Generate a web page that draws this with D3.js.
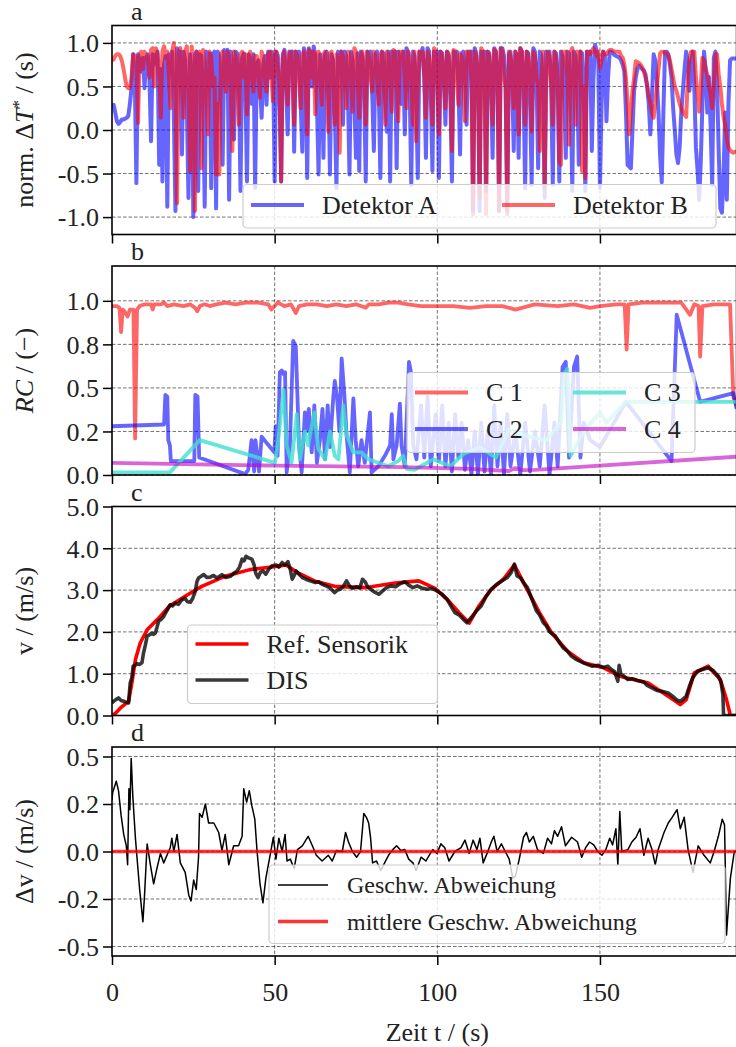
<!DOCTYPE html>
<html>
<head>
<meta charset="utf-8">
<script src="https://cdn.jsdelivr.net/npm/d3@7"></script>
<style>
  body { margin: 0; background: #fff; }
  text { font-family: "Liberation Serif", "Times New Roman", serif; fill: #222; }
</style>
</head>
<body>
<svg id="fig" width="736" height="1047"></svg>
<script>
// ---- data ----
var xTicks = [0, 50, 100, 150];
var xTickLabels = ["0", "50", "100", "150"];

// panel a: normalised Delta T*, sampled every 0.5 s
var sampleStep = 0.5;
var aTicks = [-1, -0.5, 0, 0.5, 1];
var aTickLabels = ["-1.0", "-0.5", "0.0", "0.5", "1.0"];
var detektorA = [
  0.27, 0.29, 0.2, 0.1, 0.07, 0.09, 0.12, 0.12, 0.13, 0.14,
  0.16, 0.3, 0.48, 0.87, 0.6, -0.61, 0.87, 0.8, 0.67, 0.83,
  0.48, 0.83, 0.87, 0.6, -0.13, 0.87, 0.75, 0.85, 0.9, -0.4,
  0.7, -0.59, 0.75, 0.85, -0.88, 0.87, 0.8, 0.9, 0.2, -0.93,
  0.94, 0.85, 0.9, -0.28, 0.9, 0.8, 0.3, -0.78, 0.87, 0.6,
  -1.0, 0.87, 0.9, -0.7, 0.87, 0.85, 0.4, -0.88, 0.9, 0.75,
  0.88, -0.67, 0.87, 0.9, -0.9, 0.9, 0.85, 0.5, -0.4, 0.92,
  0.85, 0.92, -0.8, 0.9, 0.7, -0.11, 0.9, 0.88, 0.6, -0.7,
  0.83, 0.88, 0.5, -0.59, 0.87, 0.8, 0.3, 0.87, -0.67, 0.75,
  0.8, 0.5, 0.14, 0.75, 0.85, 0.29, 0.9, 0.6, 0.9, 0.8,
  -0.59, 0.9, 0.85, 0.4, -0.59, 0.87, 0.92, 0.6, -0.05, 0.9,
  0.85, 0.9, -0.25, 0.9, 0.7, 0.9, 0.3, -0.25, 0.94, 0.85,
  -0.55, 0.94, 0.88, 0.5, 0.96, 0.85, 0.3, -0.51, 0.87, 0.7,
  -0.32, 0.87, 0.9, 0.6, -0.51, 0.87, 0.8, 0.2, -0.67, 0.9,
  0.85, 0.9, 0.06, 0.9, 0.85, 0.5, -0.51, 0.9, 0.8, 0.3,
  -0.32, 0.88, -0.47, 0.9, 0.85, 0.5, -0.59, 0.9, 0.85, 0.9,
  0.4, -0.24, 0.87, 0.9, 0.5, -0.55, 0.9, 0.88, 0.4, -0.02,
  0.9, -0.59, 0.9, 0.85, 0.9, -0.44, 0.9, 0.8, 0.3, 0.9,
  -0.05, 0.94, 0.9, 0.5, -0.63, 0.9, 0.85, 0.4, -0.55, 0.9,
  0.88, 0.94, 0.6, -0.32, 0.94, 0.9, 0.4, -0.47, 0.9, 0.85,
  0.9, -0.55, 0.9, 0.88, 0.6, 0.06, 0.9, 0.85, 0.4, -0.59,
  0.9, 0.88, 0.9, 0.5, -0.28, 0.87, 0.9, 0.7, 0.06, 0.9,
  0.85, 0.9, -0.93, 0.94, 0.88, 0.6, -0.93, 0.9, 0.85, 0.9,
  -0.7, 0.9, 0.88, 0.5, -0.32, 0.94, 0.9, 0.6, -0.93, 0.94,
  0.94, 0.85, 0.5, -0.93, 0.87, 0.9, 0.6, -0.24, 0.9, 0.85,
  -0.32, 0.94, 0.9, 0.5, -0.67, 0.9, 0.88, 0.4, -0.63, 0.94,
  0.9, 0.6, -0.44, 0.9, 0.85, 0.5, -0.78, 0.9, 0.88, 0.9,
  0.5, -0.63, 0.9, 0.88, 0.6, -0.59, 0.9, 0.85, 0.5, -0.32,
  0.9, 0.88, 0.4, -0.7, 0.9, 0.85, 0.6, -0.4, 0.9, 0.88,
  0.5, -0.7, 0.9, 0.85, 0.9, -0.24, 0.6, 0.98, 0.9, 0.8,
  -0.67, 0.3, 0.9, 0.85, 0.1, 0.6, 0.9, 0.9, 0.88, 0.86,
  0.85, 0.84, 0.83, 0.8, 0.75, 0.67, 0.2, -0.4, -0.42, -0.44,
  0.0, 0.45, 0.6, 0.7, 0.74, 0.72, 0.7, 0.68, 0.64, 0.5,
  0.3, -0.05, 0.4, 0.87, 0.8, 0.56, 0.2, -0.3, -0.6, 0.2,
  0.9, 0.9, 0.87, 0.75, 0.6, 0.25, 0.0, -0.28, -0.38, -0.2,
  0.2, 0.45, 0.7, 0.9, 0.8, 0.45, 0.7, 0.9, 0.5, -0.2,
  -0.46, -0.8, -0.36, 0.3, 0.9, 0.7, 0.2, 0.61, 0.06, -0.63,
  0.83, 0.9, 0.5, -0.23, -0.9, -0.95, -0.5, 0.2, -0.8, 0.3,
  0.8, 0.82, 0.82, 0.82, 0.82];
var detektorB = [
  0.8, 0.81, 0.85, 0.87, 0.87, 0.85, 0.8, 0.71, 0.6, 0.5,
  0.48, 0.48, 0.6, 0.87, 0.85, 0.83, 0.08, 0.87, 0.9, 0.7,
  0.9, 0.85, 0.83, 0.6, 0.92, 0.94, 0.5, 0.94, 0.87, 0.7,
  0.14, 0.9, 0.96, 0.83, 0.9, 0.6, 0.25, 0.9, 1.0, 0.5,
  -0.84, 0.9, 0.94, 0.6, 0.14, 0.9, 0.96, 0.5, -0.47, 0.96,
  0.6, -0.93, 0.9, 0.8, 0.9, -0.44, 0.92, 0.8, 0.4, -0.05,
  0.9, 0.85, 0.5, 0.6, -0.51, 0.3, -0.51, 0.87, 0.9, 0.6,
  0.44, 0.9, 0.85, 0.5, -0.24, 0.9, 0.85, 0.6, 0.06, 0.87,
  0.9, 0.6, 0.87, 0.18, 0.83, 0.9, 0.6, 0.44, 0.85, 0.85,
  0.6, 0.37, 0.9, 0.83, 0.6, 0.44, 0.87, 0.9, 0.6, 0.33,
  0.9, 0.9, 0.7, 0.5, -0.59, 0.83, 0.9, 0.6, 0.29, 0.87,
  0.9, 0.6, 0.06, 0.9, 0.85, 0.6, 0.25, 0.87, 0.9, 0.6,
  -0.05, 0.92, 0.9, 0.6, 0.9, 0.18, 0.87, 0.9, 0.6, 0.29,
  0.87, 0.9, 0.6, -0.02, 0.88, 0.9, 0.6, 0.06, 0.87, 0.8,
  -0.26, 0.9, 0.85, 0.6, 0.25, 0.9, 0.88, 0.6, 0.21, 0.94,
  0.9, 0.6, 0.14, 0.87, 0.9, 0.6, 0.06, 0.9, 0.85, 0.6,
  0.44, 0.9, 0.85, 0.6, 0.29, 0.87, 0.9, 0.6, 0.06, 0.9,
  0.88, 0.6, 0.21, 0.92, 0.9, 0.6, 0.1, 0.9, 0.85, 0.9,
  0.6, 0.25, 0.9, 0.85, 0.6, 0.06, 0.9, -0.13, 0.5, 0.9,
  0.87, 0.9, 0.6, 0.14, 0.9, 0.85, 0.6, 0.06, 0.94, 0.9,
  0.6, -0.05, 0.9, 0.85, 0.6, 0.25, 0.9, 0.88, 0.6, -0.24,
  0.92, 0.9, 0.6, 0.29, 0.88, 0.85, 0.6, 0.1, 0.9, 0.85,
  0.9, 0.5, -0.97, 0.9, 0.85, 0.6, -0.78, 0.94, 0.9, 0.6,
  -0.97, 0.9, 0.85, 0.6, 0.06, 0.92, 0.9, 0.6, -0.93, 0.94,
  0.9, 0.6, 0.5, -0.97, 0.9, 0.85, 0.6, 0.25, 0.9, 0.85,
  -0.05, 0.94, 0.9, 0.6, 0.06, 0.9, 0.85, 0.6, -0.02, 0.9,
  0.85, 0.6, 0.5, -0.24, 0.6, 0.9, -0.67, 0.5, 0.9, 0.85,
  0.6, 0.06, 0.9, 0.85, 0.6, -0.36, -0.4, 0.9, 0.85, 0.9,
  0.6, -0.17, 0.9, 0.94, 0.6, 0.06, 0.9, 0.85, 0.9, -0.47,
  0.5, -0.55, 0.9, 0.9, 0.87, 0.9, 0.94, 0.9, 0.85, 0.9,
  0.71, 0.8, 0.9, 0.87, 0.87, 0.9, 0.92, 0.92, 0.91, 0.9,
  0.9, 0.9, 0.9, 0.85, 0.83, 0.75, 0.6, 0.3, -0.05, 0.2,
  0.44, 0.6, 0.79, 0.78, 0.77, 0.75, 0.72, 0.68, 0.6, 0.52,
  0.4, 0.3, 0.2, 0.14, 0.3, 0.5, 0.7, 0.88, 0.9, 0.9,
  0.88, 0.88, 0.86, 0.8, 0.7, 0.6, 0.5, 0.45, 0.38, 0.3,
  0.25, 0.2, 0.18, 0.15, 0.57, 0.8, 0.9, 0.9, 0.9, 0.6,
  0.4, 0.21, 0.5, 0.83, 0.8, 0.7, 0.64, 0.5, 0.4, 0.25,
  0.5, 0.87, 0.87, 0.64, 0.5, 0.3, 0.15, 0.06, -0.1, -0.2,
  -0.23, -0.25, -0.26, -0.25, -0.25];

// panel b: RC of components
var bTicks = [0, 0.25, 0.5, 0.75, 1];
var bTickLabels = ["0.0", "0.2", "0.5", "0.8", "1.0"];
var rcC1 = [[0,0.97],[1.5,0.97],[2.3,0.96],[2.8,0.82],[3.3,0.95],[4.2,0.93],[4.8,0.91],[5.5,0.95],[6.6,0.95],[7.1,0.21],[7.7,0.95],[8.5,0.97],[10,0.98],[12,0.98],[12.5,0.95],[13,0.98],[15,0.98],[16,0.99],[17,0.97],[19,0.98],[22,0.97],[24,0.98],[25.5,0.96],[26.2,0.94],[27,0.97],[28.5,0.98],[30,0.97],[32,0.98],[35,0.99],[38,0.98],[41,0.99],[45,0.99],[48,0.98],[49,0.95],[50,0.97],[51,0.99],[53,0.97],[55,0.98],[56.5,0.93],[57.5,0.97],[60,0.98],[63,0.98],[66,0.97],[69,0.98],[72,0.97],[75,0.98],[78,0.96],[79,0.98],[82,0.98],[85,0.99],[88,0.99],[91,0.98],[95,0.97],[100,0.97],[105,0.97],[110,0.96],[115,0.97],[120,0.97],[124,0.95],[126,0.96],[130,0.98],[137,0.97],[142,0.98],[147,0.96],[150,0.97],[155,0.98],[157.6,0.98],[158.2,0.72],[158.8,0.98],[163,0.99],[170,0.99],[175,0.99],[177.7,0.92],[179,0.98],[180.3,0.97],[180.8,0.68],[181.5,0.97],[185,0.98],[190,0.98],[191,0.45],[192,0.4]];
var rcC2 = [[0,0.28],[16,0.29],[16.4,0.46],[17,0.45],[17.3,0.2],[17.8,0.17],[18.1,0.08],[25.3,0.08],[25.6,0.46],[26.3,0.45],[26.8,0.1],[40.9,0.005],[41.9,0.03],[42.9,0.2],[43.7,0.02],[44.1,0.2],[45.2,0.02],[46,0.22],[49.9,0.13],[50.3,0.28],[50.9,0.11],[51.6,0.59],[52.2,0.6],[52.7,0.58],[53.2,0.59],[53.7,0.015],[54.7,0.17],[55.7,0.77],[56.5,0.74],[57.5,0.17],[58.3,0.015],[59.3,0.36],[59.8,0.25],[60.5,0.38],[61.4,0.13],[62.2,0.4],[63,0.07],[63.9,0.2],[64.7,0.38],[65.5,0.09],[66.3,0.4],[67,0.16],[68,0.44],[68.5,0.54],[69.2,0.44],[69.9,0.25],[70.6,0.67],[71.4,0.47],[72.1,0.23],[73.1,0.015],[74.2,0.44],[74.9,0.2],[75.7,0.05],[76.7,0.2],[77.7,0.07],[79.3,0.36],[79.8,0.015],[81.9,0.05],[83.9,0.11],[85.5,0.17],[86,0.35],[86.5,0.09],[87.5,0.17],[88.5,0.41],[89,0.17],[90,0.05],[91.3,0.65],[91.9,0.59],[92.6,0.17],[93.6,0.09],[95,0.4],[96,0.1],[97,0.45],[98,0.05],[99.5,0.35],[100.5,0.08],[101.5,0.4],[102.5,0.05],[103.5,0.3],[104.5,0.02],[105.5,0.35],[106.5,0.1],[107.5,0.3],[108.5,0.03],[109.5,0.2],[110.5,0.0],[111.5,0.25],[112.5,0.0],[113.5,0.3],[114.5,0.02],[115.5,0.25],[116.5,0.0],[117.5,0.4],[118.5,0.05],[119.5,0.3],[120.5,0.0],[121.5,0.35],[122.5,0.05],[124,0.25],[125.5,0.0],[127,0.3],[128.5,0.02],[130,0.25],[131.5,0.05],[133,0.4],[134.5,0.0],[136,0.3],[137,0.05],[138.5,0.62],[139.5,0.65],[140.5,0.1],[142,0.62],[143,0.68],[144,0.1],[145,0.3],[147,0.2],[150,0.16],[158,0.42],[172,0.08],[173.6,0.92],[180.8,0.42],[191,0.47],[192,0.38]];
var rcC3 = [[0,0.015],[17.8,0.015],[27,0.2],[50.1,0.07],[51.1,0.2],[52.7,0.49],[53.7,0.17],[55.2,0.07],[56.8,0.35],[57.8,0.09],[59.3,0.25],[60.3,0.17],[61.4,0.28],[62.2,0.36],[63.4,0.15],[65.5,0.09],[67,0.25],[68.5,0.11],[69.6,0.09],[71.1,0.4],[72.1,0.23],[74.2,0.13],[76.7,0.13],[78.8,0.09],[81.9,0.07],[84.9,0.05],[88,0.08],[89.5,0.11],[90.6,0.035],[93,0.03],[98.7,0.09],[104,0.05],[108,0.12],[113,0.16],[118,0.1],[122,0.26],[128,0.22],[133.6,0.2],[138,0.3],[139,0.58],[140,0.61],[141,0.11],[145,0.25],[150,0.36],[152,0.3],[158,0.42],[192,0.42]];
var rcC4 = [[0,0.07],[50,0.054],[90,0.045],[110,0.035],[122,0.023],[124,0.04],[126,0.028],[130,0.03],[192,0.105]];

// panel c: speed
var cTicks = [0, 1, 2, 3, 4, 5];
var cTickLabels = ["0.0", "1.0", "2.0", "3.0", "4.0", "5.0"];
var refSensorik = [[0,0],[1,0.05],[2.6,0.18],[5.1,0.34],[6.1,0.78],[7.2,1.34],[8.7,1.74],[10.8,2.05],[14,2.3],[17.7,2.62],[22.6,2.86],[27.6,3.09],[35,3.34],[42.4,3.49],[49.8,3.56],[53.5,3.6],[57.2,3.41],[62.2,3.22],[68.4,3.09],[78.2,3.06],[87,3.17],[94.3,3.22],[99.3,3.04],[103,2.78],[106.7,2.46],[109.8,2.21],[112.8,2.62],[116.6,3.02],[120.3,3.26],[123.7,3.6],[126.5,3.18],[131.4,2.46],[135.1,1.98],[140,1.54],[145,1.26],[151.2,1.14],[156.1,0.94],[164.8,0.78],[171,0.46],[174.7,0.26],[176.5,0.38],[179,1.02],[183.3,1.18],[187,0.86],[188.9,0.38],[190.1,0],[192,0]];
var dis = [[0,0.3],[0.5,0.34],[1.2,0.38],[2,0.42],[2.8,0.36],[3.6,0.34],[4.3,0.32],[5.1,0.3],[5.6,0.78],[6.1,0.9],[6.5,1.18],[7.1,1.2],[7.7,1.24],[8.4,1.22],[9.2,1.26],[9.7,1.5],[10.3,1.7],[10.8,1.9],[11.5,1.93],[12.3,1.97],[12.8,1.94],[13.3,1.97],[13.8,2.1],[14.3,2.25],[15.1,2.3],[15.9,2.37],[16.8,2.5],[17.9,2.65],[18.6,2.62],[19.5,2.69],[20.4,2.66],[21.5,2.77],[22.5,2.8],[23.2,2.72],[24.1,2.71],[24.8,2.8],[25.6,2.97],[26.1,3.2],[26.6,3.29],[27.4,3.33],[28.2,3.37],[29.2,3.3],[30.2,3.31],[31.2,3.35],[32.3,3.29],[33.1,3.33],[33.8,3.37],[35,3.3],[36.4,3.33],[37.4,3.4],[38.4,3.45],[39.2,3.55],[40,3.74],[40.6,3.7],[41.2,3.81],[42,3.77],[43,3.74],[43.7,3.6],[44.2,3.4],[44.9,3.3],[45.6,3.42],[46.4,3.46],[47.3,3.38],[48.2,3.5],[49.2,3.58],[50.5,3.6],[51.3,3.55],[52.3,3.66],[53.2,3.6],[54.1,3.68],[54.8,3.5],[55.4,3.26],[56,3.35],[56.6,3.46],[57.5,3.38],[58.5,3.3],[59.6,3.26],[60.9,3.22],[62.5,3.18],[63.5,3.2],[64.6,3.14],[65.8,3.1],[67,3.05],[68.4,2.94],[69.3,3.0],[70.2,3.02],[71.2,3.1],[72.1,3.22],[73,3.1],[73.9,3.04],[75.2,3.08],[76.2,3.05],[77,3.26],[77.8,3.2],[78.6,3.08],[79.5,3.02],[80.8,2.95],[82,2.9],[83.2,2.98],[84.4,3.06],[85.8,3.1],[87.2,3.08],[88.5,3.15],[90,3.2],[91.2,3.12],[92.5,3.06],[93.8,3.1],[95.2,3.05],[96.8,3.02],[98.3,3.04],[99.9,2.98],[101.5,2.9],[103,2.78],[104.2,2.62],[105.4,2.46],[106.8,2.4],[108,2.3],[109.1,2.22],[110.5,2.35],[112,2.5],[113.5,2.62],[115,2.85],[116.6,3.02],[118,3.12],[119.5,3.2],[121.5,3.3],[122.7,3.42],[123.7,3.62],[124.5,3.34],[125.5,3.3],[126.5,3.18],[127.7,3.06],[129,2.8],[130.5,2.5],[131.5,2.4],[132.6,2.22],[133.5,2.15],[134.5,2.0],[136.3,1.9],[137.5,1.75],[138.7,1.62],[140,1.54],[141.2,1.42],[142.5,1.35],[143.8,1.3],[145.5,1.24],[147.5,1.18],[149.5,1.2],[151,1.15],[152.4,1.18],[153.5,1.1],[154.5,1.05],[155.5,0.82],[155.9,1.2],[156.4,1.0],[157.5,0.93],[158.6,0.86],[160,0.88],[161.5,0.84],[163.5,0.8],[164.5,0.72],[166,0.66],[167.5,0.6],[169,0.58],[171,0.54],[172.5,0.45],[173.5,0.38],[174.7,0.34],[175.6,0.4],[176.5,0.46],[177.5,0.7],[178.5,0.9],[180,1.06],[181.5,1.1],[183.3,1.14],[184.7,1.08],[186.4,0.94],[187.2,0.8],[187.8,0.5],[188,0],[192,0]];

// panel d: speed deviation
var dTicks = [-0.5, -0.25, 0, 0.25, 0.5];
var dTickLabels = ["-0.5", "-0.2", "0.0", "0.2", "0.5"];
var meanDeviation = 0.0;
var deviation = [[0,0.27],[0.2,0.31],[1.3,0.37],[2,0.32],[2.8,0.19],[3.6,0.09],[4.4,0.03],[4.8,-0.07],[5.2,0.33],[5.5,0.22],[5.9,0.49],[6.4,0.29],[7.2,0.07],[8.5,-0.2],[9.5,-0.37],[10,-0.23],[10.8,0.04],[11.8,-0.07],[12.8,-0.17],[13.8,-0.09],[14.9,-0.01],[15.9,-0.06],[16.9,-0.02],[17.9,0.02],[18.4,0.07],[19,0],[20,0.09],[21,-0.06],[22.5,-0.11],[23.6,-0.23],[24.3,-0.26],[25.1,-0.15],[25.9,-0.2],[26.6,-0.03],[26.9,0.2],[27.7,0.18],[28.7,0.25],[29.7,0.15],[31.3,0.15],[32.8,0.1],[33.8,0.005],[34.8,0.09],[35.9,-0.07],[37.4,0.03],[38.9,0.03],[40,0.08],[40.5,0.33],[41.4,0.26],[42.2,0.32],[43,0.24],[43.9,0.17],[44.6,0],[45.5,-0.17],[46.4,-0.27],[47.3,-0.14],[48.6,-0.02],[49.6,0.075],[50.4,-0.04],[51.3,0.07],[52.3,0],[53.2,0.09],[53.8,-0.05],[54.8,-0.04],[56,-0.09],[57,0.01],[58.5,0.03],[60.3,0.08],[61.6,0.03],[62.8,-0.02],[64.6,-0.05],[66.5,-0.02],[67.7,-0.05],[69,0.005],[70.8,0],[71.8,0.1],[72.7,0.05],[73.9,0],[75.2,-0.03],[76.4,0],[77.4,0.2],[78.2,0.18],[78.9,0.15],[79.5,0.07],[80.1,-0.06],[81.3,-0.05],[82.6,-0.1],[83.8,-0.06],[85,-0.02],[86.3,0.01],[87.5,0.03],[88.8,0.005],[90,0.01],[91.2,-0.04],[92.5,-0.06],[93.5,-0.1],[95,-0.03],[96.5,-0.05],[97.5,-0.02],[98.6,0.01],[99.9,-0.01],[101.1,0.04],[102.3,0.02],[103.6,-0.05],[105.4,0],[107.3,0.02],[108.5,0.06],[109.8,-0.01],[111,0.06],[112.2,0.01],[113.1,0.07],[114.1,-0.06],[115.3,-0.01],[116.6,0.05],[117.4,0.08],[118.4,0],[119.7,0.04],[120.9,0],[122.1,-0.04],[123.2,-0.14],[124,-0.13],[125.2,-0.04],[126.5,0.075],[127.4,0.1],[128.3,0.05],[129.5,0.08],[130.8,0.01],[132.6,-0.01],[133.9,0.07],[135.1,0.04],[136,0.11],[137,0.08],[138.2,0.13],[139.4,0.03],[141.3,0.075],[143.1,0.05],[144.4,-0.03],[145.6,0.02],[146.8,0.05],[148.1,0.035],[149.3,0],[150.6,-0.02],[151.8,0.01],[153,0.07],[153.9,0.035],[154.9,0.12],[155.5,-0.07],[156.1,0.21],[156.7,0],[158.6,0.01],[159.8,0.05],[161.1,0.075],[162.3,0.12],[163.5,-0.02],[164.8,0.07],[166,0.01],[167,-0.07],[167.9,0.01],[169.7,0.1],[171,0.15],[172.2,0.18],[173.7,0.22],[174.7,0.12],[175.9,0.18],[177.1,0.01],[178.6,-0.11],[180.2,0.03],[182,-0.02],[183.9,-0.06],[185.1,0],[186.4,0.08],[187.6,0.17],[188.3,0.14],[188.9,-0.44],[190.1,-0.14],[191.3,0],[192,0]];

// ---- layout ----
var svg = d3.select("#fig");
var left = 112, tMax = 192, pxPerSec = 3.253;
var panelTop = [25.5, 266, 506.5, 747], panelH = 209;

var x = d3.scaleLinear().domain([0, tMax]).range([left, left + tMax * pxPerSec]);

var defs = svg.append("defs");

function panel(i, ydom, yticks, ylabels) {
  var top = panelTop[i], bottom = top + panelH;
  var y = d3.scaleLinear().domain(ydom).range([bottom, top]);
  var g = svg.append("g");

  defs.append("clipPath").attr("id", "clip" + i)
    .append("rect").attr("x", x(0)).attr("y", top).attr("width", x(tMax) - x(0)).attr("height", panelH);

  // grid
  g.append("g").selectAll("line").data(yticks).enter().append("line")
    .attr("x1", x(0)).attr("x2", x(tMax)).attr("y1", function(d){ return y(d); }).attr("y2", function(d){ return y(d); })
    .attr("stroke", "#000").attr("stroke-opacity", 0.55).attr("stroke-width", 1).attr("stroke-dasharray", "3.5,2");
  g.append("g").selectAll("line").data(xTicks.slice(1)).enter().append("line")
    .attr("y1", top).attr("y2", bottom).attr("x1", function(d){ return x(d); }).attr("x2", function(d){ return x(d); })
    .attr("stroke", "#000").attr("stroke-opacity", 0.55).attr("stroke-width", 1).attr("stroke-dasharray", "3.5,2");

  var plot = g.append("g").attr("clip-path", "url(#clip" + i + ")");

  // axes
  var ya = d3.axisLeft(y).tickValues(yticks).tickSize(9).tickPadding(4)
    .tickFormat(function(d, k){ return ylabels[k]; });
  var yg = g.append("g").attr("transform", "translate(" + x(0) + ",0)").call(ya);
  yg.select(".domain").remove();
  yg.selectAll("line").attr("stroke", "#000").attr("stroke-width", 1.5);
  yg.selectAll("text").attr("font-size", 26).attr("fill", "#222").attr("dy", "0.34em")
    .style("font-family", "'Liberation Serif', serif");

  var xa = d3.axisBottom(x).tickValues(xTicks).tickSize(9).tickPadding(18)
    .tickFormat(function(d, k){ return i === 3 ? xTickLabels[k] : ""; });
  var xg = g.append("g").attr("transform", "translate(0," + bottom + ")").call(xa);
  xg.select(".domain").remove();
  xg.selectAll("line").attr("stroke", "#000").attr("stroke-width", 1.5);
  xg.selectAll("text").attr("font-size", 26).attr("fill", "#222")
    .style("font-family", "'Liberation Serif', serif");

  // frame (right spine sits just past the page edge)
  g.append("rect").attr("x", x(0)).attr("y", top).attr("width", x(tMax) - x(0)).attr("height", panelH)
    .attr("fill", "none").attr("stroke", "#000").attr("stroke-width", 1.6);

  // panel letter
  svg.append("text").attr("x", 131).attr("y", top - 6).attr("font-size", 26).text("abcd"[i]);

  return { plot: plot, y: y, g: g };
}

function drawLine(p, data, color, width, opacity) {
  var line = d3.line().x(function(d){ return x(d[0]); }).y(function(d){ return p.y(d[1]); });
  p.plot.append("path").datum(data).attr("d", line)
    .attr("fill", "none").attr("stroke", color).attr("stroke-width", width)
    .attr("stroke-opacity", opacity).attr("stroke-linejoin", "round").attr("stroke-linecap", "butt");
}

// sampled series: value k sits at t = k * sampleStep
function drawSampled(p, values, color, width, opacity) {
  var line = d3.line().x(function(d, k){ return x(k * sampleStep); }).y(function(d){ return p.y(d); });
  p.plot.append("path").datum(values).attr("d", line)
    .attr("fill", "none").attr("stroke", color).attr("stroke-width", width)
    .attr("stroke-opacity", opacity).attr("stroke-linejoin", "round").attr("stroke-linecap", "butt");
}

function legend(box, items, fontSize) {
  var lg = svg.append("g");
  lg.append("rect").attr("x", box[0]).attr("y", box[1]).attr("width", box[2]).attr("height", box[3])
    .attr("rx", 4).attr("fill", "#fff").attr("fill-opacity", 0.8).attr("stroke", "#cccccc").attr("stroke-width", 1.2);
  items.forEach(function(it) {
    lg.append("line").attr("x1", it.x).attr("x2", it.x + it.len).attr("y1", it.y).attr("y2", it.y)
      .attr("stroke", it.color).attr("stroke-width", it.w).attr("stroke-opacity", it.op);
    lg.append("text").attr("x", it.x + it.len + it.gap).attr("y", it.y).attr("dy", "0.34em")
      .attr("font-size", fontSize).text(it.label);
  });
}

function yLabel(i, build) {
  var cy = panelTop[i] + panelH / 2;
  var t = svg.append("text").attr("transform", "translate(33," + cy + ") rotate(-90)")
    .attr("text-anchor", "middle").attr("font-size", 26);
  build(t);
}

// ---- panel a ----
var pa = panel(0, [-1.2, 1.2], aTicks, aTickLabels);
drawSampled(pa, detektorA, "blue", 4, 0.6);
drawSampled(pa, detektorB, "red", 4, 0.6);
legend([243, 184.5, 473, 43.5], [
  { x: 251, y: 205, len: 53, gap: 18, color: "blue", w: 4, op: 0.6, label: "Detektor A" },
  { x: 502, y: 205, len: 53, gap: 18, color: "red", w: 4, op: 0.6, label: "Detektor B" }
], 26);
yLabel(0, function(t) {
  t.append("tspan").text("norm. \u0394");
  t.append("tspan").attr("font-style", "italic").text("T");
  t.append("tspan").attr("dy", -9).attr("font-size", 17).text("*");
  t.append("tspan").attr("dy", 9).text(" / (s)");
});

// ---- panel b ----
var pb = panel(1, [0, 1.2], bTicks, bTickLabels);
drawLine(pb, rcC1, "red", 3.8, 0.6);
drawLine(pb, rcC2, "blue", 3.8, 0.6);
drawLine(pb, rcC3, "#40e0d0", 3.8, 0.8);
drawLine(pb, rcC4, "#bf00bf", 3.8, 0.6);
legend([407, 372.5, 288, 80], [
  { x: 415, y: 392.5, len: 53, gap: 18, color: "red", w: 3.8, op: 0.6, label: "C 1" },
  { x: 415, y: 429, len: 53, gap: 18, color: "blue", w: 3.8, op: 0.6, label: "C 2" },
  { x: 573, y: 392.5, len: 53, gap: 18, color: "#40e0d0", w: 3.8, op: 0.8, label: "C 3" },
  { x: 573, y: 429, len: 53, gap: 18, color: "#bf00bf", w: 3.8, op: 0.6, label: "C 4" }
], 26);
yLabel(1, function(t) {
  t.append("tspan").attr("font-style", "italic").text("RC");
  t.append("tspan").text(" / (\u2212)");
});

// ---- panel c ----
var pc = panel(2, [0, 5], cTicks, cTickLabels);
drawLine(pc, refSensorik, "#ff0000", 3.6, 1);
drawLine(pc, dis, "#000", 3.6, 0.78);
legend([187.5, 625, 250, 78.5], [
  { x: 195.5, y: 644, len: 53, gap: 18, color: "#ff0000", w: 3.6, op: 1, label: "Ref. Sensorik" },
  { x: 195.5, y: 680, len: 53, gap: 18, color: "#000", w: 3.6, op: 0.78, label: "DIS" }
], 26);
yLabel(2, function(t) { t.text("v / (m/s)"); });

// ---- panel d ----
var pd = panel(3, [-0.55, 0.55], dTicks, dTickLabels);
drawLine(pd, deviation, "#000", 1.5, 1);
drawLine(pd, [[0, meanDeviation], [tMax, meanDeviation]], "red", 3.5, 0.8);
legend([269, 865, 456, 78.5], [
  { x: 278, y: 885, len: 50, gap: 19, color: "#000", w: 1.5, op: 1, label: "Geschw. Abweichung" },
  { x: 278, y: 921.5, len: 50, gap: 19, color: "red", w: 3.5, op: 0.8, label: "mittlere Geschw. Abweichung" }
], 24);
yLabel(3, function(t) { t.text("\u0394v / (m/s)"); });

// x label
svg.append("text").attr("x", x(100)).attr("y", 1041).attr("text-anchor", "middle")
  .attr("font-size", 26).text("Zeit t / (s)");
</script>
</body>
</html>
